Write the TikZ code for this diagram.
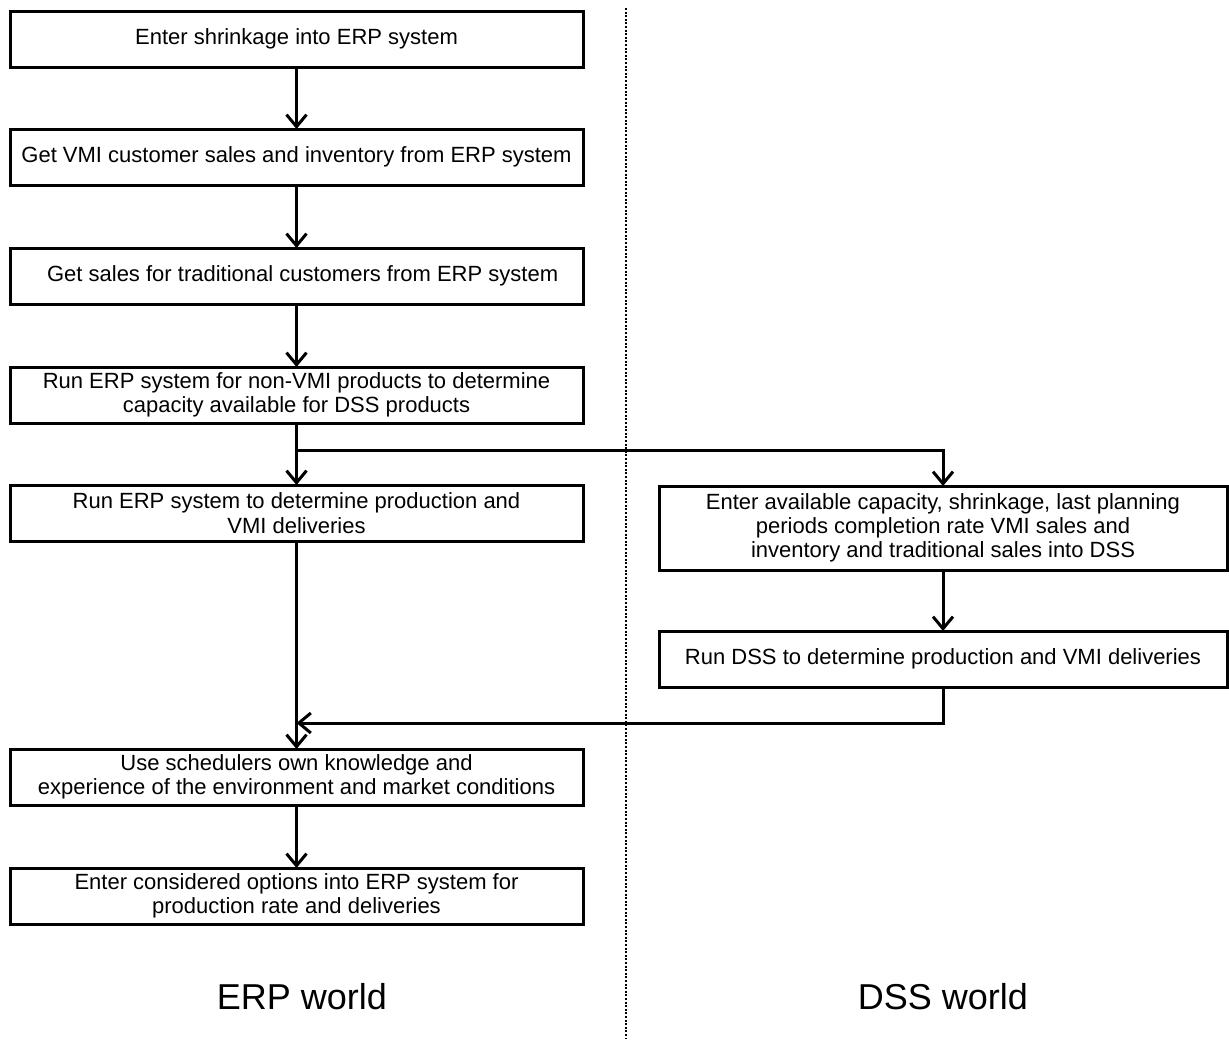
\documentclass[tikz,border=0pt]{standalone}
\usepackage{fontspec}
\setmainfont{Liberation Sans}
\usetikzlibrary{arrows.meta}

\begin{document}
\begin{tikzpicture}[x=1pt,y=-1pt,
  every node/.style={inner sep=0pt, outer sep=0pt},
  stepbox/.style={draw, line width=3pt, align=center,
    font=\fontsize{22}{24.5}\selectfont, minimum height=56pt},
  erpbox/.style={stepbox, minimum width=573pt},
  dssbox/.style={stepbox, minimum width=568pt},
  flow/.style={line width=3pt, -{Straight Barb[length=12pt,width=20pt,line width=3pt]}},
  divider/.style={line width=2.6pt, dash pattern=on 2pt off 1.6pt},
  worldlabel/.style={font=\fontsize{36}{40}\selectfont}]

\useasboundingbox (0,0) rectangle (1229,1039);

% ERP column
\node[erpbox] (b1) at (296.5,39)  {Enter shrinkage into ERP system};
\node[erpbox] (b2) at (296.5,157) {Get VMI customer sales and inventory from ERP system};
\node[erpbox] (b3) at (296.5,276) {\ \ Get sales for traditional customers from ERP system};
\node[erpbox] (b4) at (296.5,395) {Run ERP system for non-VMI products to determine\\capacity available for DSS products};
\node[erpbox] (b5) at (296.5,513) {Run ERP system to determine production and\\VMI deliveries};
\node[erpbox] (b7) at (296.5,777) {Use schedulers own knowledge and\\experience of the environment and market conditions};
\node[erpbox] (b8) at (296.5,896) {Enter considered options into ERP system for\\production rate and deliveries};

% DSS column
\node[dssbox, minimum height=84pt, font=\fontsize{22}{24}\selectfont] (d1) at (943,528) {Enter available capacity, shrinkage, last planning\\periods completion rate VMI sales and\\inventory and traditional sales into DSS};
\node[dssbox] (d2) at (943,659) {Run DSS to determine production and VMI deliveries};

% divider between the two worlds
\coordinate (divtop) at (626,8);
\coordinate (divbot) at (626,1039);
\draw[divider] (divtop) -- (divbot);

% world captions
\node[worldlabel] (erpw) at (302,997) {ERP world};
\node[worldlabel] (dssw) at (943,997) {DSS world};

% flow in the ERP world
\draw[flow] (b1) -- (b2);
\draw[flow] (b2) -- (b3);
\draw[flow] (b3) -- (b4);
\draw[flow] (b4) -- (b5);
\draw[flow] (b5) -- (b7);
\draw[flow] (b7) -- (b8);

% hand-over to the DSS and back
\coordinate (split) at (296.5,450);
\coordinate (merge) at (296.5,723);
\draw[flow] (split) -| (d1.north);
\draw[flow] (d1) -- (d2);
\draw[flow] (d2.south) |- (merge);
\end{tikzpicture}
\end{document}
